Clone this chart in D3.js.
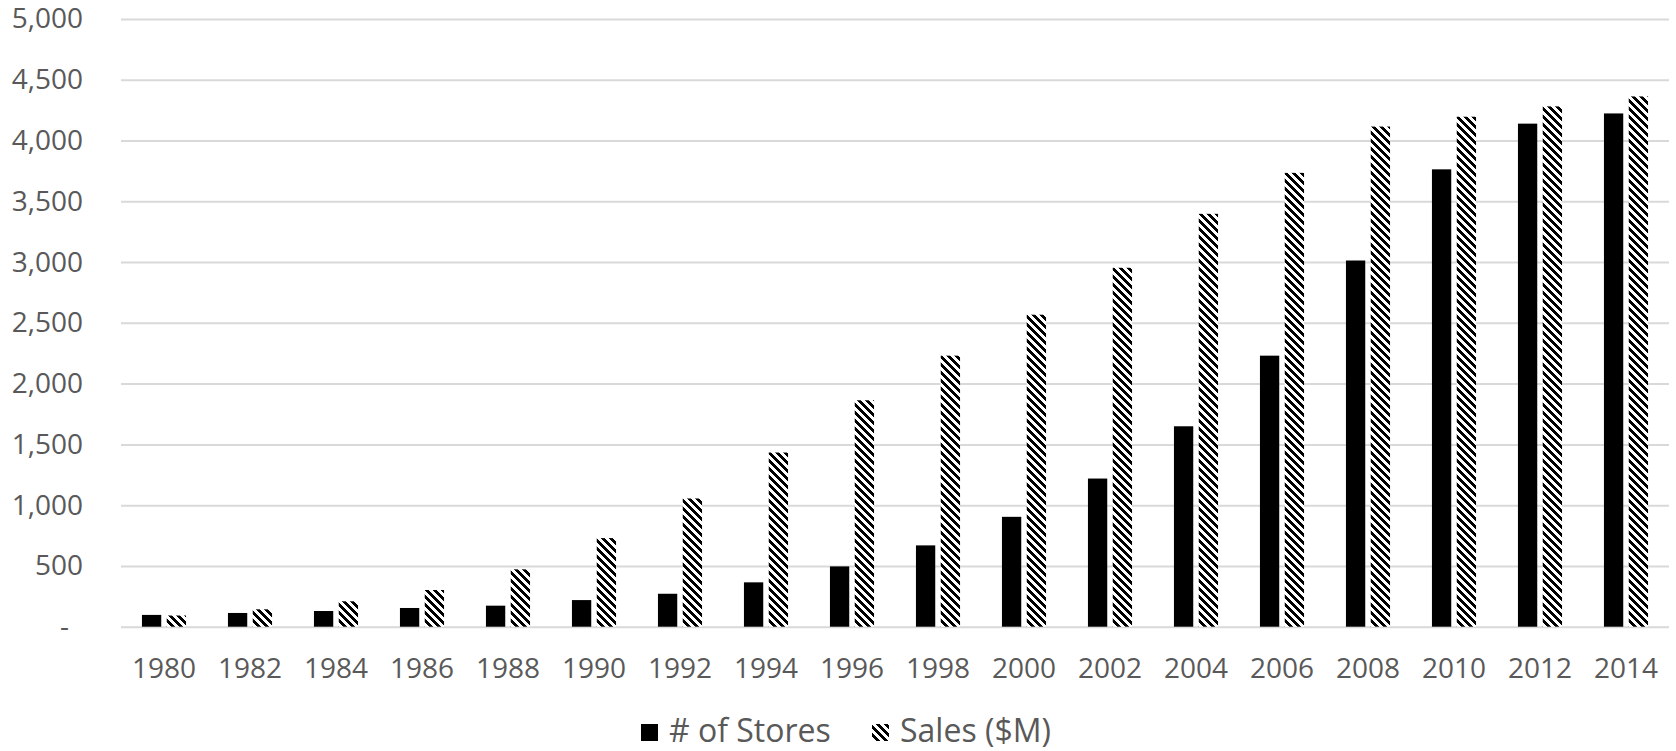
<!DOCTYPE html>
<html>
<head>
<meta charset="utf-8">
<script src="https://cdn.jsdelivr.net/npm/d3@7"></script>
<style>
  html, body { margin: 0; padding: 0; background: #ffffff; }
  svg { display: block; font-family: "Open Sans", "Noto Sans", sans-serif; }
</style>
</head>
<body>
<svg id="chart" width="1676" height="751"></svg>
<script>
const years = ["1980","1982","1984","1986","1988","1990","1992","1994","1996","1998","2000","2002","2004","2006","2008","2010","2012","2014"];
const storesValues = [97, 113, 129, 154, 173, 219, 271, 365, 496, 669, 904, 1219, 1649, 2230, 3013, 3763, 4139, 4223];
const salesValues = [92, 143, 209, 302, 472, 729, 1055, 1433, 1863, 2230, 2567, 2953, 3397, 3734, 4115, 4196, 4281, 4363];
const seriesNames = ["# of Stores", "Sales ($M)"];
const yTicks = [0, 500, 1000, 1500, 2000, 2500, 3000, 3500, 4000, 4500, 5000];

(function () {
const svg = d3.select("#chart");
const plotLeft = 121, plotRight = 1669, plotTop = 19, plotBottom = 626.7;
const textColor = "#595959";
const gridColor = "#d9d9d9";

// hatch pattern (wide downward diagonal)
const defs = svg.append("defs");
const pat = defs.append("pattern")
  .attr("id", "hatch")
  .attr("patternUnits", "userSpaceOnUse")
  .attr("width", 8).attr("height", 8);
pat.append("rect").attr("width", 8).attr("height", 8).attr("fill", "#fff");
for (let r = 0; r < 8; r++) {
  for (let k = 0; k < 4; k++) {
    const c = (r + k) % 8;
    pat.append("rect").attr("x", c).attr("y", r).attr("width", 1).attr("height", 1)
      .attr("fill", "#000").attr("shape-rendering", "crispEdges");
  }
}

const x = d3.scaleBand().domain(years).range([plotLeft, plotRight]).paddingInner(0).paddingOuter(0);
const x1 = d3.scaleBand().domain(seriesNames).range([0, x.bandwidth()]).paddingInner(0.222).paddingOuter(0.845);
const y = d3.scaleLinear().domain([0, 5000]).range([plotBottom, plotTop]);

// gridlines + y labels
const yAxis = d3.axisLeft(y)
  .tickValues(yTicks)
  .tickSize(-(plotRight - plotLeft))
  .tickPadding(38)
  .tickFormat(d => d === 0 ? "-" : d3.format(",")(d));
const gy = svg.append("g").attr("transform", `translate(${plotLeft},0)`).call(yAxis);
gy.select(".domain").remove();
gy.selectAll(".tick line").attr("stroke", gridColor).attr("stroke-width", 2);
gy.selectAll(".tick text")
  .attr("fill", textColor)
  .attr("font-size", 28)
  .attr("font-family", "'Open Sans', sans-serif")
  .attr("x", d => d === 0 ? -52 : -38);

// bars
const data = years.map((yr, i) => ({ year: yr, values: [
  { key: seriesNames[0], v: storesValues[i] },
  { key: seriesNames[1], v: salesValues[i] }
]}));
const groups = svg.append("g").selectAll("g").data(data).join("g")
  .attr("transform", d => `translate(${x(d.year)},0)`);
groups.selectAll("rect").data(d => d.values).join("rect")
  .attr("x", d => x1(d.key))
  .attr("width", x1.bandwidth())
  .attr("y", d => y(d.v))
  .attr("height", d => y(0) - y(d.v))
  .attr("fill", d => d.key === seriesNames[0] ? "#000" : "url(#hatch)");

// x axis labels
const xAxis = d3.axisBottom(x).tickSize(0).tickPadding(0);
const gx = svg.append("g").attr("transform", `translate(0,${plotBottom})`).call(xAxis);
gx.select(".domain").remove();
gx.selectAll(".tick text")
  .attr("fill", textColor)
  .attr("font-size", 28)
  .attr("font-family", "'Open Sans', sans-serif")
  .attr("dy", null)
  .attr("y", 678 - plotBottom);

// legend
const legend = svg.append("g");
const legItems = [
  { name: seriesNames[0], fill: "#000", sx: 641, tx: 669 },
  { name: seriesNames[1], fill: "url(#hatch)", sx: 872, tx: 900 }
];
legItems.forEach(it => {
  legend.append("rect").attr("x", it.sx).attr("y", 724).attr("width", 17).attr("height", 17).attr("fill", it.fill);
  legend.append("text").attr("x", it.tx).attr("y", 742)
    .attr("fill", textColor).attr("font-size", 32)
    .attr("font-family", "'Open Sans', sans-serif")
    .text(it.name);
});
})();
</script>
</body>
</html>
